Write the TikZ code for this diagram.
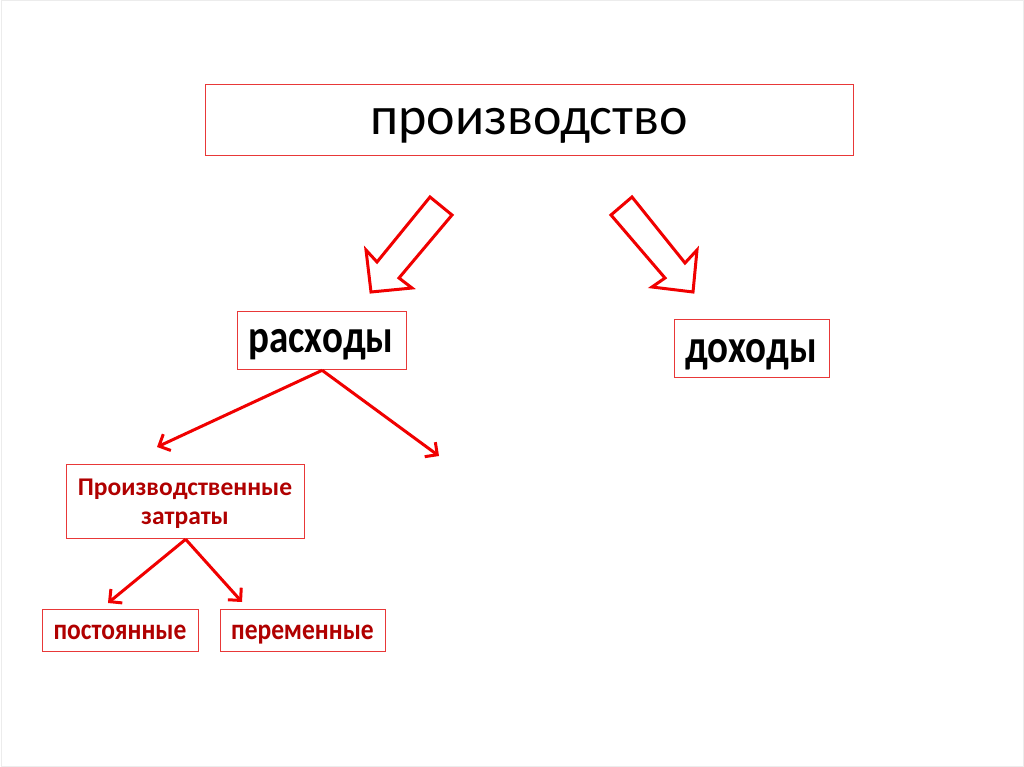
\documentclass[tikz,border=0pt]{standalone}
\usepackage{fontspec}
\setmainfont{Carlito}
\usetikzlibrary{arrows.meta}
\definecolor{arrred}{HTML}{F00000}
\definecolor{boxred}{HTML}{E83838}
\definecolor{txtred}{HTML}{B00000}
\tikzset{
  box/.style={draw=boxred, line width=1.3pt, inner sep=0pt, anchor=north west},
  lbl/.style={inner sep=0pt, anchor=base},
  bigarrow/.style={draw=arrred, line width=3pt, line join=miter},
  thinarrow/.style={draw=arrred, line width=3pt, -{Straight Barb[length=9pt,width=18pt,line width=3pt]}},
}
\begin{document}
\begin{tikzpicture}[x=1pt,y=-1pt]
\useasboundingbox (0,0) rectangle (1024,767);
\draw[gray!15, line width=1pt] (1,1) rectangle (1023,766);
% boxes
\node[box, minimum width=648pt, minimum height=71pt] (prod) at (205,84) {};
\node[lbl, font=\fontsize{54}{60}\selectfont] (prodt) at (529,135) {производство};
\node[box, minimum width=169pt, minimum height=58pt] (rash) at (237,311) {};
\node[lbl, font=\fontsize{39}{44}\bfseries] (rasht) at (321,352) {\scalebox{1}[1.2]{расходы}};
\node[box, minimum width=155pt, minimum height=58pt] (doh) at (674,319) {};
\node[lbl, font=\fontsize{39}{44}\bfseries] (doht) at (751,362) {\scalebox{1}[1.2]{доходы}};
\node[box, minimum width=238pt, minimum height=74pt] (pz) at (66,464) {};
\node[lbl, font=\fontsize{25.5}{30}\bfseries, text=txtred] (pzt1) at (185,495) {Производственные};
\node[lbl, font=\fontsize{25.5}{30}\bfseries, text=txtred] (pzt2) at (185,524) {затраты};
\node[box, minimum width=156pt, minimum height=42pt] (post) at (42,609) {};
\node[lbl, font=\fontsize{25.5}{30}\bfseries, text=txtred] (postt) at (120,639) {\scalebox{1}[1.15]{постоянные}};
\node[box, minimum width=165pt, minimum height=42pt] (per) at (220,609) {};
\node[lbl, font=\fontsize{25.5}{30}\bfseries, text=txtred] (pert) at (302.5,639) {\scalebox{1}[1.15]{переменные}};
% big hollow arrows
\draw[bigarrow] (430,197) -- (452,215) -- (399,278) -- (412,288) -- (371,292) -- (366,250) -- (377,262) -- cycle;
\draw[bigarrow] (632,197) -- (611,215) -- (665,278) -- (652,287) -- (693,292) -- (697,250) -- (685,263) -- cycle;
% thin arrows
\coordinate (r1) at (157,447);
\coordinate (r2) at (439,456);
\coordinate (p1) at (108,603);
\coordinate (p2) at (242,602);
\draw[thinarrow] (rash.south) -- (r1);
\draw[thinarrow] (rash.south) -- (r2);
\draw[thinarrow] (pz.south) -- (p1);
\draw[thinarrow] (pz.south) -- (p2);
\end{tikzpicture}
\end{document}
